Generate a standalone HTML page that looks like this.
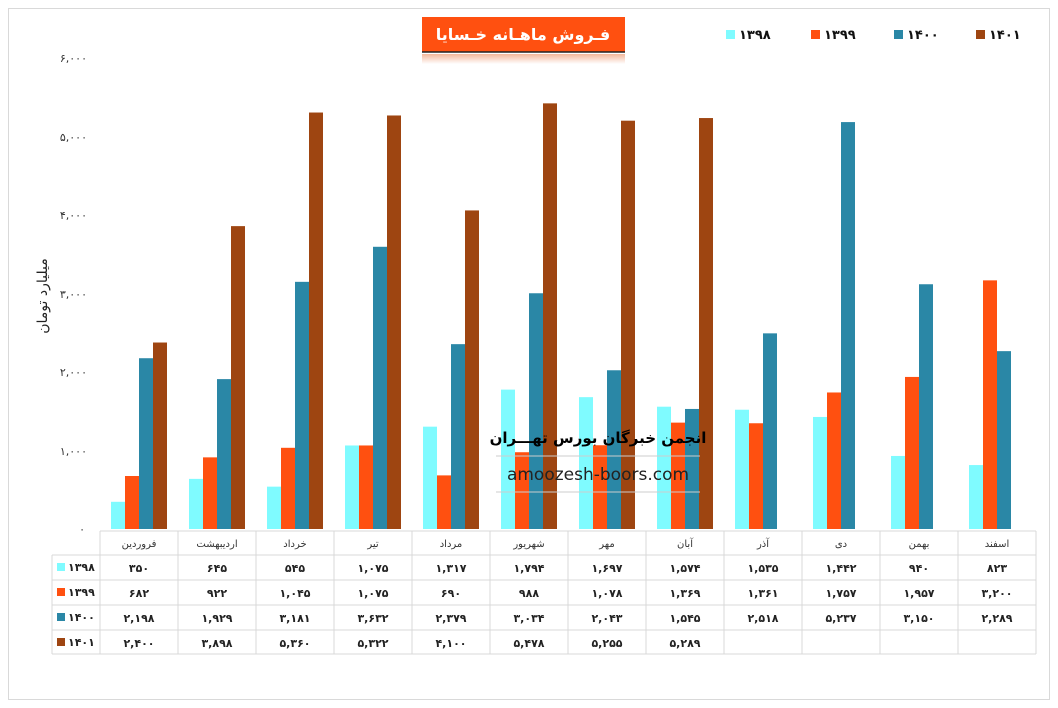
<!DOCTYPE html>
<html><head><meta charset="utf-8"><style>
html,body{margin:0;padding:0;background:#fff}
svg{display:block}
text{font-family:"DejaVu Sans","Liberation Sans",sans-serif}
</style></head><body>
<svg width="1058" height="708" viewBox="0 0 1058 708" xmlns="http://www.w3.org/2000/svg">
<rect x="8.5" y="8.5" width="1041" height="691" fill="#fff" stroke="#d9d9d9"/>
<defs><linearGradient id="sh" x1="0" y1="0" x2="0" y2="1"><stop offset="0" stop-color="#f3b79a"/><stop offset="1" stop-color="#fff"/></linearGradient></defs>
<!-- title -->
<rect x="422" y="17" width="203" height="35" fill="#ff5010"/>
<line x1="422" y1="52" x2="625" y2="52" stroke="#222" stroke-width="1.5"/>
<rect x="422" y="54" width="203" height="10" fill="url(#sh)"/>
<text x="523" y="40" text-anchor="middle" font-size="16" font-weight="bold" fill="#fff">فـروش ماهـانه خـسایا</text>
<!-- legend -->
<g font-size="13" font-weight="bold" fill="#111">
<rect x="726" y="30" width="9" height="9" fill="#7ffbff"/><text x="739" y="39">۱۳۹۸</text>
<rect x="811" y="30" width="9" height="9" fill="#ff5010"/><text x="824" y="39">۱۳۹۹</text>
<rect x="894" y="30" width="9" height="9" fill="#2a87a6"/><text x="907" y="39">۱۴۰۰</text>
<rect x="976" y="30" width="9" height="9" fill="#9e4511"/><text x="989" y="39">۱۴۰۱</text>
</g>
<!-- y ticks -->
<g font-size="11" fill="#333" text-anchor="end">
<text x="87" y="62">۶,۰۰۰</text><text x="87" y="141">۵,۰۰۰</text><text x="87" y="219">۴,۰۰۰</text>
<text x="87" y="298">۳,۰۰۰</text><text x="87" y="376">۲,۰۰۰</text><text x="87" y="455">۱,۰۰۰</text><text x="85" y="533">۰</text>
</g>
<text transform="translate(47,296) rotate(-90)" font-size="14" text-anchor="middle" fill="#222">میلیارد تومان</text>
<!-- bars -->
<g transform="translate(0,529) scale(1,-0.0777)">
<g fill="#7ffbff">
<rect x="111" width="14" height="350"/><rect x="189" width="14" height="645"/><rect x="267" width="14" height="545"/><rect x="345" width="14" height="1075"/><rect x="423" width="14" height="1317"/><rect x="501" width="14" height="1794"/><rect x="579" width="14" height="1697"/><rect x="657" width="14" height="1574"/><rect x="735" width="14" height="1535"/><rect x="813" width="14" height="1442"/><rect x="891" width="14" height="940"/><rect x="969" width="14" height="823"/>
</g>
<g fill="#ff5010">
<rect x="125" width="14" height="682"/><rect x="203" width="14" height="922"/><rect x="281" width="14" height="1045"/><rect x="359" width="14" height="1075"/><rect x="437" width="14" height="690"/><rect x="515" width="14" height="988"/><rect x="593" width="14" height="1078"/><rect x="671" width="14" height="1369"/><rect x="749" width="14" height="1361"/><rect x="827" width="14" height="1757"/><rect x="905" width="14" height="1957"/><rect x="983" width="14" height="3200"/>
</g>
<g fill="#2a87a6">
<rect x="139" width="14" height="2198"/><rect x="217" width="14" height="1929"/><rect x="295" width="14" height="3181"/><rect x="373" width="14" height="3632"/><rect x="451" width="14" height="2379"/><rect x="529" width="14" height="3034"/><rect x="607" width="14" height="2043"/><rect x="685" width="14" height="1545"/><rect x="763" width="14" height="2518"/><rect x="841" width="14" height="5237"/><rect x="919" width="14" height="3150"/><rect x="997" width="14" height="2289"/>
</g>
<g fill="#9e4511">
<rect x="153" width="14" height="2400"/><rect x="231" width="14" height="3898"/><rect x="309" width="14" height="5360"/><rect x="387" width="14" height="5322"/><rect x="465" width="14" height="4100"/><rect x="543" width="14" height="5478"/><rect x="621" width="14" height="5255"/><rect x="699" width="14" height="5289"/>
</g>
</g>
<!-- watermark -->
<text x="598" y="443" text-anchor="middle" font-size="15" font-weight="bold" fill="#000">انجمن خبرگان بورس تهـــران</text>
<line x1="496" y1="456" x2="700" y2="456" stroke="#ccc"/>
<line x1="496" y1="492" x2="700" y2="492" stroke="#ccc"/>
<text x="598" y="480" text-anchor="middle" font-size="17" font-family="Liberation Sans" fill="#222">amoozesh-boors.com</text>
<!-- table -->
<g stroke="#d9d9d9" fill="none">
<line x1="100" y1="531" x2="1036" y2="531"/>
<line x1="52" y1="555" x2="1036" y2="555"/>
<line x1="52" y1="580" x2="1036" y2="580"/>
<line x1="52" y1="605" x2="1036" y2="605"/>
<line x1="52" y1="630" x2="1036" y2="630"/>
<line x1="52" y1="654" x2="1036" y2="654"/>
<line x1="52" y1="555" x2="52" y2="654"/>
<line x1="100" y1="531" x2="100" y2="654"/><line x1="178" y1="531" x2="178" y2="654"/><line x1="256" y1="531" x2="256" y2="654"/><line x1="334" y1="531" x2="334" y2="654"/><line x1="412" y1="531" x2="412" y2="654"/><line x1="490" y1="531" x2="490" y2="654"/><line x1="568" y1="531" x2="568" y2="654"/><line x1="646" y1="531" x2="646" y2="654"/><line x1="724" y1="531" x2="724" y2="654"/><line x1="802" y1="531" x2="802" y2="654"/><line x1="880" y1="531" x2="880" y2="654"/><line x1="958" y1="531" x2="958" y2="654"/><line x1="1036" y1="531" x2="1036" y2="654"/>
</g>
<g font-size="10" fill="#333" text-anchor="middle">
<text x="139" y="547">فروردین</text><text x="217" y="547">اردیبهشت</text><text x="295" y="547">خرداد</text><text x="373" y="547">تیر</text><text x="451" y="547">مرداد</text><text x="529" y="547">شهریور</text><text x="607" y="547">مهر</text><text x="685" y="547">آبان</text><text x="763" y="547">آذر</text><text x="841" y="547">دی</text><text x="919" y="547">بهمن</text><text x="997" y="547">اسفند</text>
</g>
<rect x="57" y="563" width="8" height="8" fill="#7ffbff"/><rect x="57" y="588" width="8" height="8" fill="#ff5010"/><rect x="57" y="613" width="8" height="8" fill="#2a87a6"/><rect x="57" y="638" width="8" height="8" fill="#9e4511"/>
<g font-size="11" font-weight="bold" fill="#222">
<text x="68" y="571">۱۳۹۸</text><text x="68" y="596">۱۳۹۹</text><text x="68" y="621">۱۴۰۰</text><text x="68" y="646">۱۴۰۱</text>
</g>
<g font-size="11" font-weight="bold" fill="#222" text-anchor="middle">
<text x="139" y="572">۳۵۰</text><text x="217" y="572">۶۴۵</text><text x="295" y="572">۵۴۵</text><text x="373" y="572">۱,۰۷۵</text><text x="451" y="572">۱,۳۱۷</text><text x="529" y="572">۱,۷۹۴</text><text x="607" y="572">۱,۶۹۷</text><text x="685" y="572">۱,۵۷۴</text><text x="763" y="572">۱,۵۳۵</text><text x="841" y="572">۱,۴۴۲</text><text x="919" y="572">۹۴۰</text><text x="997" y="572">۸۲۳</text>
<text x="139" y="597">۶۸۲</text><text x="217" y="597">۹۲۲</text><text x="295" y="597">۱,۰۴۵</text><text x="373" y="597">۱,۰۷۵</text><text x="451" y="597">۶۹۰</text><text x="529" y="597">۹۸۸</text><text x="607" y="597">۱,۰۷۸</text><text x="685" y="597">۱,۳۶۹</text><text x="763" y="597">۱,۳۶۱</text><text x="841" y="597">۱,۷۵۷</text><text x="919" y="597">۱,۹۵۷</text><text x="997" y="597">۳,۲۰۰</text>
<text x="139" y="622">۲,۱۹۸</text><text x="217" y="622">۱,۹۲۹</text><text x="295" y="622">۳,۱۸۱</text><text x="373" y="622">۳,۶۳۲</text><text x="451" y="622">۲,۳۷۹</text><text x="529" y="622">۳,۰۳۴</text><text x="607" y="622">۲,۰۴۳</text><text x="685" y="622">۱,۵۴۵</text><text x="763" y="622">۲,۵۱۸</text><text x="841" y="622">۵,۲۳۷</text><text x="919" y="622">۳,۱۵۰</text><text x="997" y="622">۲,۲۸۹</text>
<text x="139" y="647">۲,۴۰۰</text><text x="217" y="647">۳,۸۹۸</text><text x="295" y="647">۵,۳۶۰</text><text x="373" y="647">۵,۳۲۲</text><text x="451" y="647">۴,۱۰۰</text><text x="529" y="647">۵,۴۷۸</text><text x="607" y="647">۵,۲۵۵</text><text x="685" y="647">۵,۲۸۹</text>
</g>
</svg>
</body></html>
